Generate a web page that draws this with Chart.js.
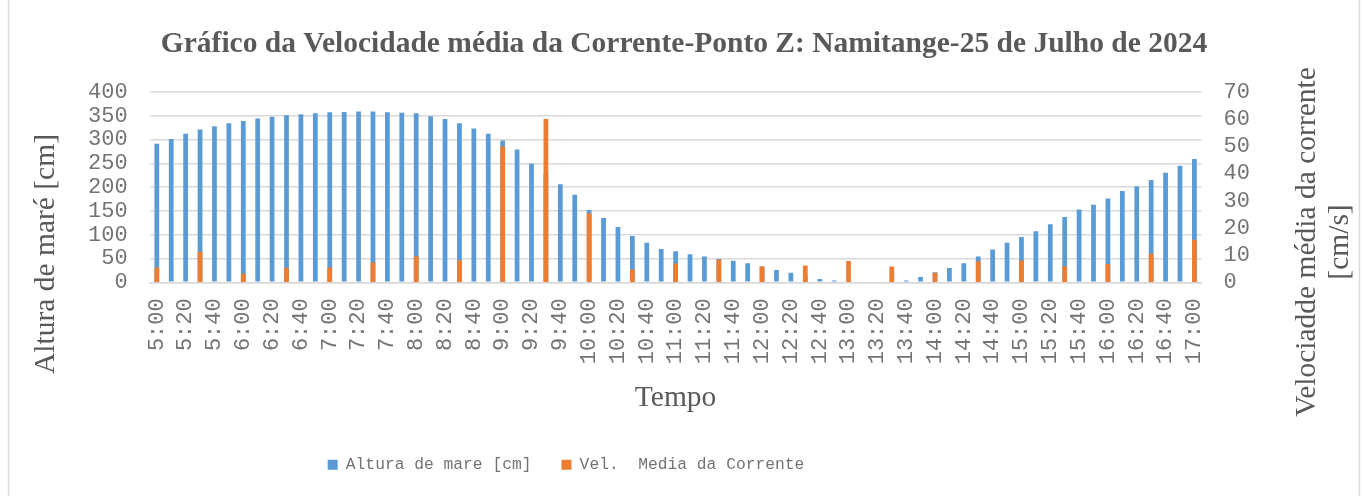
<!DOCTYPE html>
<html>
<head>
<meta charset="utf-8">
<title>Velocidade média da Corrente - Ponto Z</title>
<script src="https://cdn.jsdelivr.net/npm/chart.js"></script>
<style>
  html, body { margin: 0; padding: 0; background: #fff; }
  #wrap { position: relative; width: 1363px; height: 496px; }
</style>
</head>
<body>
<div id="wrap"><canvas id="tideChart"></canvas></div>
<script>
// Categories: every 10 minutes, 5:00 to 17:00
const times = [
    '5:00', '5:10', '5:20', '5:30', '5:40', '5:50',
    '6:00', '6:10', '6:20', '6:30', '6:40', '6:50',
    '7:00', '7:10', '7:20', '7:30', '7:40', '7:50',
    '8:00', '8:10', '8:20', '8:30', '8:40', '8:50',
    '9:00', '9:10', '9:20', '9:30', '9:40', '9:50',
    '10:00', '10:10', '10:20', '10:30', '10:40', '10:50',
    '11:00', '11:10', '11:20', '11:30', '11:40', '11:50',
    '12:00', '12:10', '12:20', '12:30', '12:40', '12:50',
    '13:00', '13:10', '13:20', '13:30', '13:40', '13:50',
    '14:00', '14:10', '14:20', '14:30', '14:40', '14:50',
    '15:00', '15:10', '15:20', '15:30', '15:40', '15:50',
    '16:00', '16:10', '16:20', '16:30', '16:40', '16:50',
    '17:00'
];

// Altura de maré [cm]
const altura = [
    291, 301, 312, 321, 328, 334,
    339, 344, 348, 351, 353, 355,
    357, 358, 359, 359, 357, 356,
    355, 349, 343, 334, 323, 312,
    298, 279, 249, 228, 206, 184,
    152, 135, 116, 97, 83, 70,
    65, 59, 54, 49, 45, 40,
    33, 26, 20, 14, 7, 3.5,
    0, 0, 0, 0, 3.5, 11,
    21, 30, 40, 54, 69, 83,
    95, 107, 122, 137, 153, 163,
    176, 192, 202, 215, 230, 245,
    259
];

// Velocidade média da corrente [cm/s], medida a cada 30 min
const velocidade = [
    5.4, null, null, 11.2, null, null,
    3.1, null, null, 5.3, null, null,
    5.4, null, null, 7.3, null, null,
    9.6, null, null, 8.1, null, null,
    50, null, null, 60, null, null,
    25.4, null, null, 4.7, null, null,
    6.9, null, null, 8.3, null, null,
    5.8, null, null, 6.2, null, null,
    7.8, null, null, 5.8, null, null,
    3.5, null, null, 7.7, null, null,
    8.0, null, null, 5.9, null, null,
    6.7, null, null, 10.5, null, null,
    15.6
];

const chartTitle = 'Gráfico da Velocidade média da Corrente-Ponto Z: Namitange-25 de Julho de 2024';
const xTitle = 'Tempo';
const leftTitle = 'Altura de maré [cm]';
const rightTitle = ['Velociadde média da corrente', '[cm/s]'];

const textGray = '#595959';
const tickGray = '#737373';
const gridGray = '#d9d9d9';
const monoFont = '"Liberation Mono", "Courier New", monospace';
const serifFont = '"Liberation Serif", "Times New Roman", serif';

// side titles and the frame are drawn by hand so they can sit off-centre like in Excel
const extras = {
    id: 'extras',
    afterLayout(chart) {
        chart.legend.left -= 103;
        chart.legend.right -= 103;
        chart.titleBlock.left += 15;
        chart.titleBlock.right += 15;
    },
    afterDraw(chart) {
        const ctx = chart.ctx;
        const area = chart.chartArea;
        ctx.save();
        ctx.strokeStyle = gridGray;
        ctx.lineWidth = 1.5;
        ctx.beginPath();
        ctx.moveTo(8.5, 0); ctx.lineTo(8.5, chart.height);
        ctx.moveTo(1359.5, 0); ctx.lineTo(1359.5, chart.height);
        ctx.stroke();

        ctx.fillStyle = textGray;
        ctx.font = '29.5px ' + serifFont;
        ctx.textAlign = 'center';
        ctx.textBaseline = 'middle';

        ctx.save();
        ctx.translate(area.left - 103, 254);
        ctx.rotate(-Math.PI / 2);
        ctx.fillText(leftTitle, 0, 0);
        ctx.restore();

        ctx.save();
        ctx.translate(area.right + 106, 242);
        ctx.rotate(-Math.PI / 2);
        ctx.fillText(rightTitle[0], 0, 0);
        ctx.fillText(rightTitle[1], 0, 33);
        ctx.restore();
        ctx.restore();
    }
};

document.addEventListener('DOMContentLoaded', function () {
    new Chart(document.getElementById('tideChart'), {
        type: 'bar',
        data: {
            labels: times,
            datasets: [{
                label: 'Altura de mare [cm]',
                data: altura,
                backgroundColor: '#5b9bd5',
                yAxisID: 'y',
                grouped: false,
                order: 1,
                categoryPercentage: 1,
                barPercentage: 0.33
            }, {
                label: 'Vel.  Media da Corrente',
                data: velocidade,
                backgroundColor: '#ed7d31',
                yAxisID: 'y1',
                grouped: false,
                order: 0,
                categoryPercentage: 1,
                barPercentage: 0.33
            }]
        },
        options: {
            responsive: true,
            maintainAspectRatio: false,
            animation: false,
            layout: { padding: { left: 66, right: 91, top: 0, bottom: 13 } },
            plugins: {
                title: {
                    display: true,
                    text: chartTitle,
                    color: textGray,
                    font: { family: serifFont, size: 29.5, weight: 'bold' },
                    padding: { top: 27, bottom: 29.5 }
                },
                legend: {
                    position: 'bottom',
                    labels: {
                        boxWidth: 10,
                        boxHeight: 10,
                        padding: 30,
                        color: tickGray,
                        font: { family: monoFont, size: 16.3 },
                        sort: (a, b) => a.datasetIndex - b.datasetIndex
                    }
                },
                tooltip: { enabled: false }
            },
            scales: {
                x: {
                    grid: { display: false, drawTicks: false },
                    border: { display: true, color: gridGray, width: 1.5 },
                    ticks: {
                        autoSkip: false,
                        minRotation: 90,
                        maxRotation: 90,
                        padding: 16,
                        color: tickGray,
                        font: { family: monoFont, size: 22 },
                        callback: function (v, i) {
                            return i % 2 === 0 ? this.getLabelForValue(v) : '';
                        }
                    },
                    title: {
                        display: true,
                        text: xTitle,
                        color: textGray,
                        font: { family: serifFont, size: 29.5 },
                        padding: { top: 0, bottom: 11 }
                    }
                },
                y: {
                    position: 'left',
                    min: 0,
                    max: 400,
                    grid: { color: gridGray, lineWidth: 1.5, drawTicks: false },
                    border: { display: false },
                    ticks: {
                        stepSize: 50,
                        autoSkip: false,
                        padding: 22,
                        color: tickGray,
                        font: { family: monoFont, size: 22 }
                    }
                },
                y1: {
                    position: 'right',
                    min: 0,
                    max: 70,
                    grid: { display: false, drawTicks: false },
                    border: { display: false },
                    ticks: {
                        stepSize: 10,
                        autoSkip: false,
                        padding: 22,
                        color: tickGray,
                        font: { family: monoFont, size: 22 }
                    }
                }
            }
        },
        plugins: [extras]
    });
});
</script>
</body>
</html>
